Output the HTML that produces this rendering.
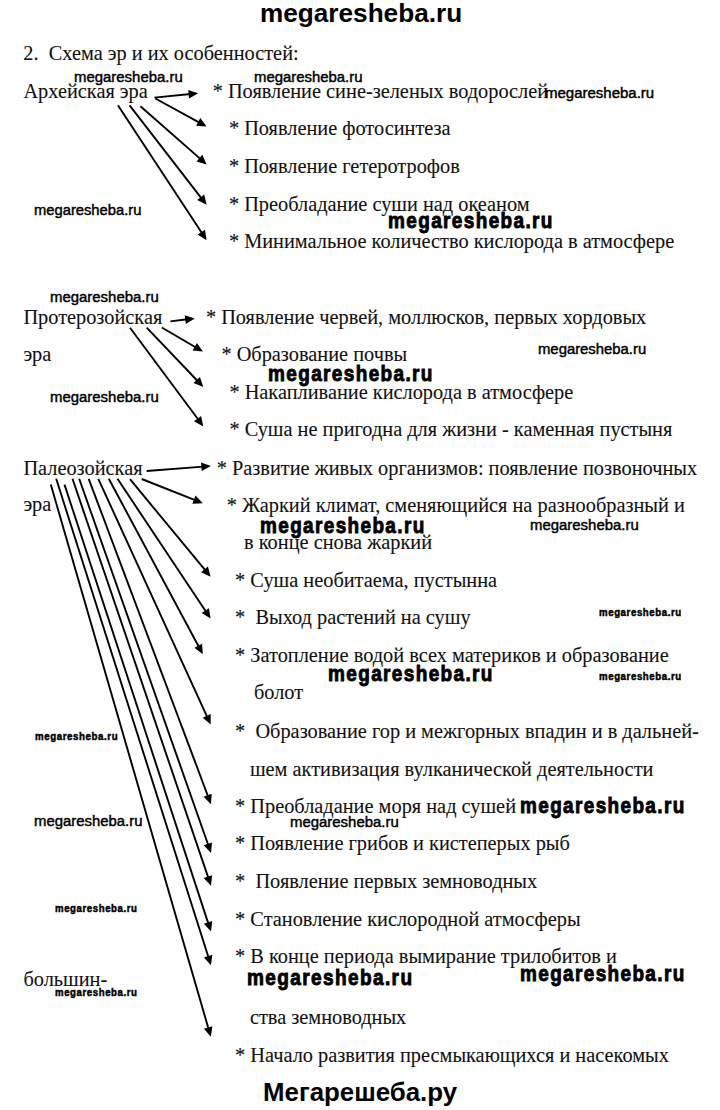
<!DOCTYPE html><html><head><meta charset="utf-8"><style>
html,body{margin:0;padding:0;background:#fff;width:720px;height:1110px;overflow:hidden;}
.t{position:absolute;white-space:pre;line-height:1;color:#111;-webkit-text-stroke:0.1px #111;font-family:"Liberation Serif", serif;font-size:20.33px;}
.w{position:absolute;white-space:pre;line-height:1;color:#000;font-family:"Liberation Sans", sans-serif;transform-origin:0 0;}
svg{position:absolute;left:0;top:0;}
</style></head><body>
<div class="t" style="left:23.3px;top:43.07px">2.&nbsp; Схема эр и их особенностей:</div>
<div class="t" style="left:23.4px;top:80.97px">Архейская эра</div>
<div class="t" style="left:212.7px;top:80.97px">* Появление сине-зеленых водорослей</div>
<div class="t" style="left:228.9px;top:118.47px">* Появление фотосинтеза</div>
<div class="t" style="left:228.9px;top:156.17px">* Появление гетеротрофов</div>
<div class="t" style="left:228.9px;top:193.77px">* Преобладание суши над океаном</div>
<div class="t" style="left:228.9px;top:231.27px">* Минимальное количество кислорода в атмосфере</div>
<div class="t" style="left:23.4px;top:306.77px">Протерозойская</div>
<div class="t" style="left:205.9px;top:306.77px">* Появление червей, моллюсков, первых хордовых</div>
<div class="t" style="left:23.4px;top:343.57px">эра</div>
<div class="t" style="left:221.4px;top:344.07px">* Образование почвы</div>
<div class="t" style="left:229.4px;top:381.57px">* Накапливание кислорода в атмосфере</div>
<div class="t" style="left:229.4px;top:419.37px">* Суша не пригодна для жизни - каменная пустыня</div>
<div class="t" style="left:23.4px;top:457.77px">Палеозойская</div>
<div class="t" style="left:216.7px;top:457.77px">* Развитие живых организмов: появление позвоночных</div>
<div class="t" style="left:23.4px;top:494.17px">эра</div>
<div class="t" style="left:226.8px;top:494.97px">* Жаркий климат, сменяющийся на разнообразный и</div>
<div class="t" style="left:244.1px;top:532.07px">в конце снова жаркий</div>
<div class="t" style="left:235.1px;top:570.17px">* Суша необитаема, пустынна</div>
<div class="t" style="left:235.1px;top:607.47px">*&nbsp; Выход растений на сушу</div>
<div class="t" style="left:235.1px;top:644.67px">* Затопление водой всех материков и образование</div>
<div class="t" style="left:253.9px;top:681.97px">болот</div>
<div class="t" style="left:235.1px;top:720.77px">*&nbsp; Образование гор и межгорных впадин и в дальней-</div>
<div class="t" style="left:249.9px;top:759.17px">шем активизация вулканической деятельности</div>
<div class="t" style="left:235.1px;top:795.57px">* Преобладание моря над сушей</div>
<div class="t" style="left:235.1px;top:833.47px">* Появление грибов и кистеперых рыб</div>
<div class="t" style="left:235.1px;top:870.97px">*&nbsp; Появление первых земноводных</div>
<div class="t" style="left:235.1px;top:908.57px">* Становление кислородной атмосферы</div>
<div class="t" style="left:235.1px;top:946.17px">* В конце периода вымирание трилобитов и</div>
<div class="t" style="left:23.4px;top:969.17px">большин-</div>
<div class="t" style="left:249.9px;top:1006.97px">ства земноводных</div>
<div class="t" style="left:235.1px;top:1044.67px">* Начало развития пресмыкающихся и насекомых</div>
<svg width="720" height="1110" viewBox="0 0 720 1110">
<line x1="154.4" y1="97.6" x2="190.6" y2="94.0" stroke="#000" stroke-width="1.9"/>
<path d="M198.2,93.3 L189.1,98.6 L188.2,89.9 Z" fill="#000"/>
<line x1="155.4" y1="98.5" x2="199.9" y2="122.9" stroke="#000" stroke-width="1.9"/>
<path d="M206.6,126.5 L196.1,125.8 L200.3,118.0 Z" fill="#000"/>
<line x1="140.4" y1="106.2" x2="200.9" y2="159.4" stroke="#000" stroke-width="1.9"/>
<path d="M206.6,164.4 L196.5,161.4 L202.3,154.8 Z" fill="#000"/>
<line x1="129.6" y1="105.3" x2="201.9" y2="198.8" stroke="#000" stroke-width="1.9"/>
<path d="M206.6,204.8 L197.2,199.9 L204.2,194.5 Z" fill="#000"/>
<line x1="117.9" y1="105.3" x2="202.4" y2="233.8" stroke="#000" stroke-width="1.9"/>
<path d="M206.6,240.2 L197.6,234.6 L205.0,229.8 Z" fill="#000"/>
<line x1="170.4" y1="321.4" x2="187.3" y2="319.3" stroke="#000" stroke-width="1.9"/>
<path d="M194.8,318.4 L185.8,323.9 L184.7,315.2 Z" fill="#000"/>
<line x1="161.8" y1="327.5" x2="196.4" y2="347.8" stroke="#000" stroke-width="1.9"/>
<path d="M203.0,351.6 L192.5,350.6 L196.9,343.0 Z" fill="#000"/>
<line x1="146.7" y1="327.7" x2="198.1" y2="381.5" stroke="#000" stroke-width="1.9"/>
<path d="M203.3,387.0 L193.5,383.1 L199.9,377.0 Z" fill="#000"/>
<line x1="130.0" y1="327.7" x2="198.8" y2="420.3" stroke="#000" stroke-width="1.9"/>
<path d="M203.3,426.4 L194.0,421.3 L201.1,416.1 Z" fill="#000"/>
<line x1="146.7" y1="471.0" x2="203.3" y2="466.6" stroke="#000" stroke-width="1.9"/>
<path d="M210.9,466.0 L201.7,471.1 L201.0,462.4 Z" fill="#000"/>
<line x1="141.7" y1="479.0" x2="195.7" y2="500.4" stroke="#000" stroke-width="1.9"/>
<path d="M202.8,503.2 L192.3,503.8 L195.5,495.6 Z" fill="#000"/>
<line x1="130.0" y1="479.2" x2="205.8" y2="570.9" stroke="#000" stroke-width="1.9"/>
<path d="M210.6,576.8 L201.1,572.2 L207.9,566.6 Z" fill="#000"/>
<line x1="117.5" y1="478.8" x2="206.4" y2="612.3" stroke="#000" stroke-width="1.9"/>
<path d="M210.6,618.6 L201.6,613.0 L208.9,608.2 Z" fill="#000"/>
<line x1="108.8" y1="478.8" x2="199.2" y2="647.5" stroke="#000" stroke-width="1.9"/>
<path d="M202.8,654.2 L194.4,647.8 L202.1,643.7 Z" fill="#000"/>
<line x1="98.3" y1="478.8" x2="207.5" y2="717.7" stroke="#000" stroke-width="1.9"/>
<path d="M210.7,724.6 L202.7,717.7 L210.7,714.0 Z" fill="#000"/>
<line x1="88.7" y1="478.8" x2="208.3" y2="797.1" stroke="#000" stroke-width="1.9"/>
<path d="M211.0,804.2 L203.5,796.8 L211.7,793.7 Z" fill="#000"/>
<line x1="79.2" y1="478.8" x2="208.5" y2="845.7" stroke="#000" stroke-width="1.9"/>
<path d="M211.0,852.9 L203.7,845.3 L212.0,842.4 Z" fill="#000"/>
<line x1="72.5" y1="478.8" x2="208.6" y2="878.6" stroke="#000" stroke-width="1.9"/>
<path d="M211.0,885.8 L203.7,878.1 L212.1,875.3 Z" fill="#000"/>
<line x1="64.5" y1="484.6" x2="208.6" y2="924.4" stroke="#000" stroke-width="1.9"/>
<path d="M211.0,931.6 L203.8,923.8 L212.2,921.1 Z" fill="#000"/>
<line x1="56.2" y1="478.8" x2="208.7" y2="958.0" stroke="#000" stroke-width="1.9"/>
<path d="M211.0,965.2 L203.9,957.4 L212.3,954.7 Z" fill="#000"/>
<line x1="50.8" y1="484.6" x2="208.7" y2="1029.4" stroke="#000" stroke-width="1.9"/>
<path d="M210.8,1036.7 L203.9,1028.7 L212.4,1026.3 Z" fill="#000"/>
</svg>
<div class="w" style="left:260.1px;top:0.9px;font-size:25.5px;font-weight:700;letter-spacing:0.00px;transform:scaleX(1.026);-webkit-text-stroke:0.00px #000">megaresheba.ru</div>
<div class="w" style="left:73.6px;top:69.4px;font-size:15.3px;font-weight:400;letter-spacing:0.00px;transform:scaleX(0.976);-webkit-text-stroke:0.45px #000">megaresheba.ru</div>
<div class="w" style="left:253.9px;top:69.2px;font-size:15.3px;font-weight:400;letter-spacing:0.00px;transform:scaleX(0.974);-webkit-text-stroke:0.45px #000">megaresheba.ru</div>
<div class="w" style="left:545.3px;top:85.2px;font-size:15.3px;font-weight:400;letter-spacing:0.00px;transform:scaleX(0.980);-webkit-text-stroke:0.45px #000">megaresheba.ru</div>
<div class="w" style="left:34.0px;top:201.7px;font-size:15.3px;font-weight:400;letter-spacing:0.00px;transform:scaleX(0.964);-webkit-text-stroke:0.45px #000">megaresheba.ru</div>
<div class="w" style="left:387.8px;top:210.0px;font-size:22.0px;font-weight:700;letter-spacing:1.60px;transform:scaleX(0.862);-webkit-text-stroke:0.90px #000">megaresheba.ru</div>
<div class="w" style="left:49.8px;top:289.4px;font-size:15.3px;font-weight:400;letter-spacing:0.00px;transform:scaleX(0.976);-webkit-text-stroke:0.45px #000">megaresheba.ru</div>
<div class="w" style="left:537.7px;top:341.4px;font-size:15.3px;font-weight:400;letter-spacing:0.00px;transform:scaleX(0.971);-webkit-text-stroke:0.45px #000">megaresheba.ru</div>
<div class="w" style="left:267.8px;top:362.5px;font-size:22.0px;font-weight:700;letter-spacing:1.60px;transform:scaleX(0.862);-webkit-text-stroke:0.90px #000">megaresheba.ru</div>
<div class="w" style="left:49.8px;top:389.4px;font-size:15.3px;font-weight:400;letter-spacing:0.00px;transform:scaleX(0.976);-webkit-text-stroke:0.45px #000">megaresheba.ru</div>
<div class="w" style="left:259.6px;top:514.5px;font-size:22.0px;font-weight:700;letter-spacing:1.60px;transform:scaleX(0.861);-webkit-text-stroke:0.90px #000">megaresheba.ru</div>
<div class="w" style="left:529.8px;top:516.8px;font-size:15.3px;font-weight:400;letter-spacing:0.00px;transform:scaleX(0.976);-webkit-text-stroke:0.45px #000">megaresheba.ru</div>
<div class="w" style="left:599.0px;top:607.6px;font-size:10.0px;font-weight:700;letter-spacing:0.60px;transform:scaleX(0.967);-webkit-text-stroke:0.45px #000">megaresheba.ru</div>
<div class="w" style="left:327.8px;top:662.5px;font-size:22.0px;font-weight:700;letter-spacing:1.60px;transform:scaleX(0.862);-webkit-text-stroke:0.90px #000">megaresheba.ru</div>
<div class="w" style="left:599.0px;top:671.6px;font-size:10.0px;font-weight:700;letter-spacing:0.60px;transform:scaleX(0.967);-webkit-text-stroke:0.45px #000">megaresheba.ru</div>
<div class="w" style="left:34.8px;top:731.6px;font-size:10.0px;font-weight:700;letter-spacing:0.60px;transform:scaleX(0.971);-webkit-text-stroke:0.45px #000">megaresheba.ru</div>
<div class="w" style="left:519.6px;top:794.5px;font-size:22.0px;font-weight:700;letter-spacing:1.60px;transform:scaleX(0.861);-webkit-text-stroke:0.90px #000">megaresheba.ru</div>
<div class="w" style="left:33.9px;top:813.4px;font-size:15.3px;font-weight:400;letter-spacing:0.00px;transform:scaleX(0.974);-webkit-text-stroke:0.45px #000">megaresheba.ru</div>
<div class="w" style="left:289.8px;top:813.8px;font-size:15.3px;font-weight:400;letter-spacing:0.00px;transform:scaleX(0.976);-webkit-text-stroke:0.45px #000">megaresheba.ru</div>
<div class="w" style="left:55.1px;top:903.7px;font-size:10.0px;font-weight:700;letter-spacing:0.60px;transform:scaleX(0.964);-webkit-text-stroke:0.45px #000">megaresheba.ru</div>
<div class="w" style="left:247.1px;top:966.5px;font-size:22.0px;font-weight:700;letter-spacing:1.60px;transform:scaleX(0.865);-webkit-text-stroke:0.90px #000">megaresheba.ru</div>
<div class="w" style="left:519.6px;top:962.5px;font-size:22.0px;font-weight:700;letter-spacing:1.60px;transform:scaleX(0.861);-webkit-text-stroke:0.90px #000">megaresheba.ru</div>
<div class="w" style="left:55.1px;top:987.6px;font-size:10.0px;font-weight:700;letter-spacing:0.60px;transform:scaleX(0.964);-webkit-text-stroke:0.45px #000">megaresheba.ru</div>
<div class="w" style="left:263.1px;top:1079.6px;font-size:25.5px;font-weight:700;letter-spacing:0.00px;transform:scaleX(1.013);-webkit-text-stroke:0.00px #000">Мегарешеба.ру</div>
</body></html>
